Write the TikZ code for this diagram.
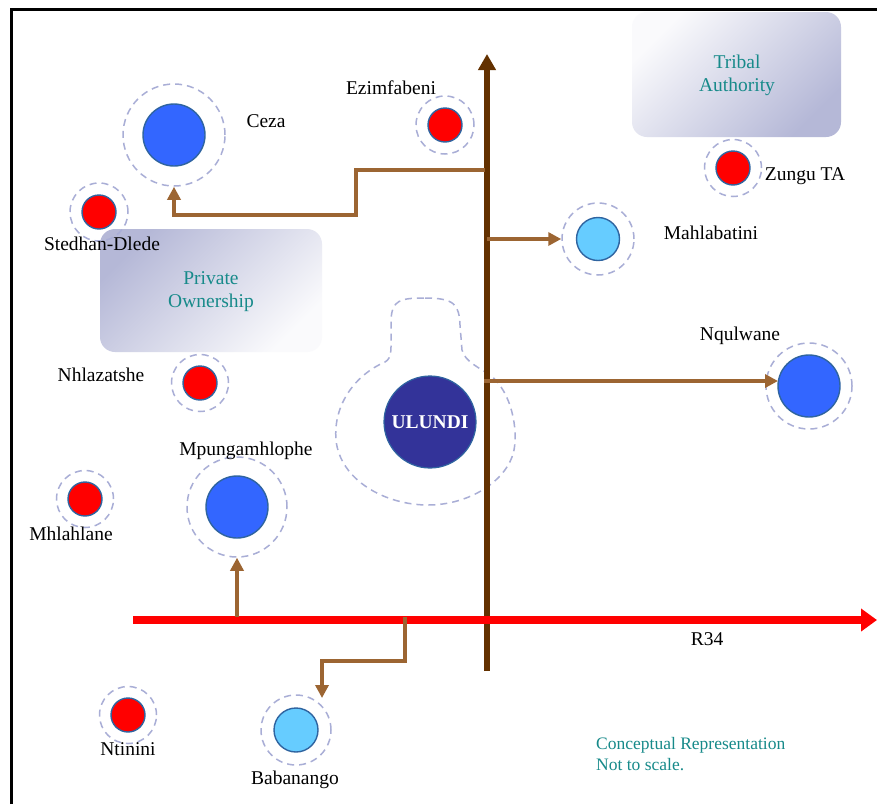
\documentclass[tikz,border=0pt]{standalone}
\usepackage{fontspec}
\setmainfont{Liberation Serif}
\usetikzlibrary{arrows.meta}
\definecolor{bigblue}{HTML}{3366FF}
\definecolor{lightblue}{HTML}{66CCFF}
\definecolor{townred}{HTML}{FF0000}
\definecolor{ringblue}{HTML}{2F64A0}
\definecolor{halocol}{HTML}{A9AED6}
\definecolor{trunkbrown}{HTML}{633100}
\definecolor{feedbrown}{HTML}{9C6532}
\definecolor{tealtext}{HTML}{178A8A}
\definecolor{ulundiblue}{HTML}{333399}
\definecolor{boxdark}{HTML}{B5B8D7}
\definecolor{boxlight}{HTML}{FAFAFC}
\begin{document}
\begin{tikzpicture}[x=1pt,y=-1pt,
  town/.style={circle, draw=ringblue, line width=1.4pt, minimum size=#1, inner sep=0pt},
  halo/.style={circle, draw=halocol, dash pattern=on 7pt off 5pt, line width=1.5pt, minimum size=#1, inner sep=0pt},
  lbl/.style={font=\fontsize{19.5}{23}\selectfont, text=black, inner sep=0pt, text height=13.5pt, text depth=3.5pt},
  boxtext/.style={font=\fontsize{19.5}{23}\selectfont, text=tealtext, align=center, inner sep=0pt},
  feeder/.style={draw=feedbrown, line width=4pt, -{Triangle[length=13pt,width=13pt]}},
]
\useasboundingbox (0,0) rectangle (877,804);
\fill[white] (0,0) rectangle (877,804);

% frame
\draw[black, line width=3pt] (11.5,804) -- (11.5,9.5) -- (877,9.5);

% shaded boxes
\shade[top color=boxlight, bottom color=boxdark, shading angle=45, rounded corners=15pt]
  (632,12) rectangle (841,137);
\node[boxtext] (tribal) at (737,75) {Tribal\\Authority};
\shade[top color=boxdark, bottom color=boxlight, shading angle=45, rounded corners=15pt]
  (100,229) rectangle (322,352);
\node[boxtext] (private) at (211,292) {Private\\Ownership};

% Ulundi blob
\draw[halocol, dash pattern=on 7pt off 5pt, line width=1.5pt]
  (425,298) .. controls (455,298) and (459,305) .. (460,325) -- (462,350)
  .. controls (465,362) and (480,368) .. (490,375)
  .. controls (512,392) and (518,430) .. (514,450)
  .. controls (508,480) and (470,505) .. (428,505)
  .. controls (385,505) and (340,480) .. (336,440)
  .. controls (333,405) and (355,375) .. (385,362)
  .. controls (392,358) and (391,350) .. (391,335) -- (391,320)
  .. controls (392,300) and (400,298) .. (425,298) -- cycle;

% trunk road and R34
\coordinate (trunkS) at (487,671);
\coordinate (trunkE) at (487,54);
\draw[trunkbrown, line width=6pt, -{Triangle[length=16pt,width=17pt]}] (trunkS) -- (trunkE);
\coordinate (r34S) at (133,620);
\coordinate (r34E) at (877,620);
\draw[townred, line width=8pt, -{Triangle[length=16pt,width=22pt]}] (r34S) -- (r34E);
\node[lbl] (r34) at (707,640) {R34};

% towns
\node[halo=102] (cezaH) at (174,135) {};
\node[town=62, fill=bigblue] (ceza) at (174,135) {};
\node[lbl] (cezaL) at (266,122) {Ceza};

\node[halo=58] (ezimH) at (445,125) {};
\node[town=34, fill=townred] (ezim) at (445,125) {};
\node[lbl] (ezimL) at (391,89) {Ezimfabeni};

\node[halo=58] (stedH) at (99,212) {};
\node[town=34, fill=townred] (sted) at (99,212) {};
\node[lbl] (stedL) at (102,245) {Stedhan-Dlede};

\node[halo=57] (zunguH) at (733,168) {};
\node[town=34, fill=townred] (zungu) at (733,168) {};
\node[lbl] (zunguL) at (805,175) {Zungu TA};

\node[halo=72] (mahH) at (598,239) {};
\node[town=43, fill=lightblue] (mah) at (598,239) {};
\node[lbl] (mahL) at (711,234) {Mahlabatini};

\node[halo=86] (nquH) at (809,386) {};
\node[town=62, fill=bigblue] (nqu) at (809,386) {};
\node[lbl] (nquL) at (740,335) {Nqulwane};

\node[circle, draw=ringblue, line width=1.2pt, fill=ulundiblue, minimum size=92, inner sep=0pt,
  text=white, font=\bfseries\fontsize{19.5}{23}\selectfont] (ulundi) at (430,422) {ULUNDI};

\node[halo=57] (nhlaH) at (200,383) {};
\node[town=34, fill=townred] (nhla) at (200,383) {};
\node[lbl] (nhlaL) at (101,376) {Nhlazatshe};

\node[halo=100] (mpuH) at (237,507) {};
\node[town=62, fill=bigblue] (mpu) at (237,507) {};
\node[lbl] (mpuL) at (246,450) {Mpungamhlophe};

\node[halo=57] (mhlaH) at (85,499) {};
\node[town=34, fill=townred] (mhla) at (85,499) {};
\node[lbl] (mhlaL) at (71,535) {Mhlahlane};

\node[halo=57] (ntiH) at (128,715) {};
\node[town=34, fill=townred] (nti) at (128,715) {};
\node[lbl] (ntiL) at (128,750) {Ntinini};

\node[halo=70] (babH) at (296,730) {};
\node[town=44, fill=lightblue] (bab) at (296,730) {};
\node[lbl] (babL) at (295,779) {Babanango};

% feeder roads
\coordinate (cezaS) at (485,170);
\draw[feeder] (cezaS) -| (356,215) -| (cezaH.south);
\coordinate (mahS) at (487,239);
\draw[feeder] (mahS) -- (mahH.west);
\coordinate (nquS) at (484,381);
\coordinate (nquT) at (778,381);
\draw[feeder] (nquS) -- (nquT);
\coordinate (mpuS) at (237,617);
\draw[feeder] (mpuS) -- (mpuH.south);
\coordinate (babS) at (405,617);
\coordinate (babT) at (322,698);
\draw[feeder] (babS) |- (368,661) -| (babT);

% note
\node[font=\fontsize{17.5}{21}\selectfont, text=tealtext, align=left, anchor=north west, inner sep=0pt]
  (note) at (596,737) {Conceptual Representation\\Not to scale.};
\end{tikzpicture}
\end{document}
